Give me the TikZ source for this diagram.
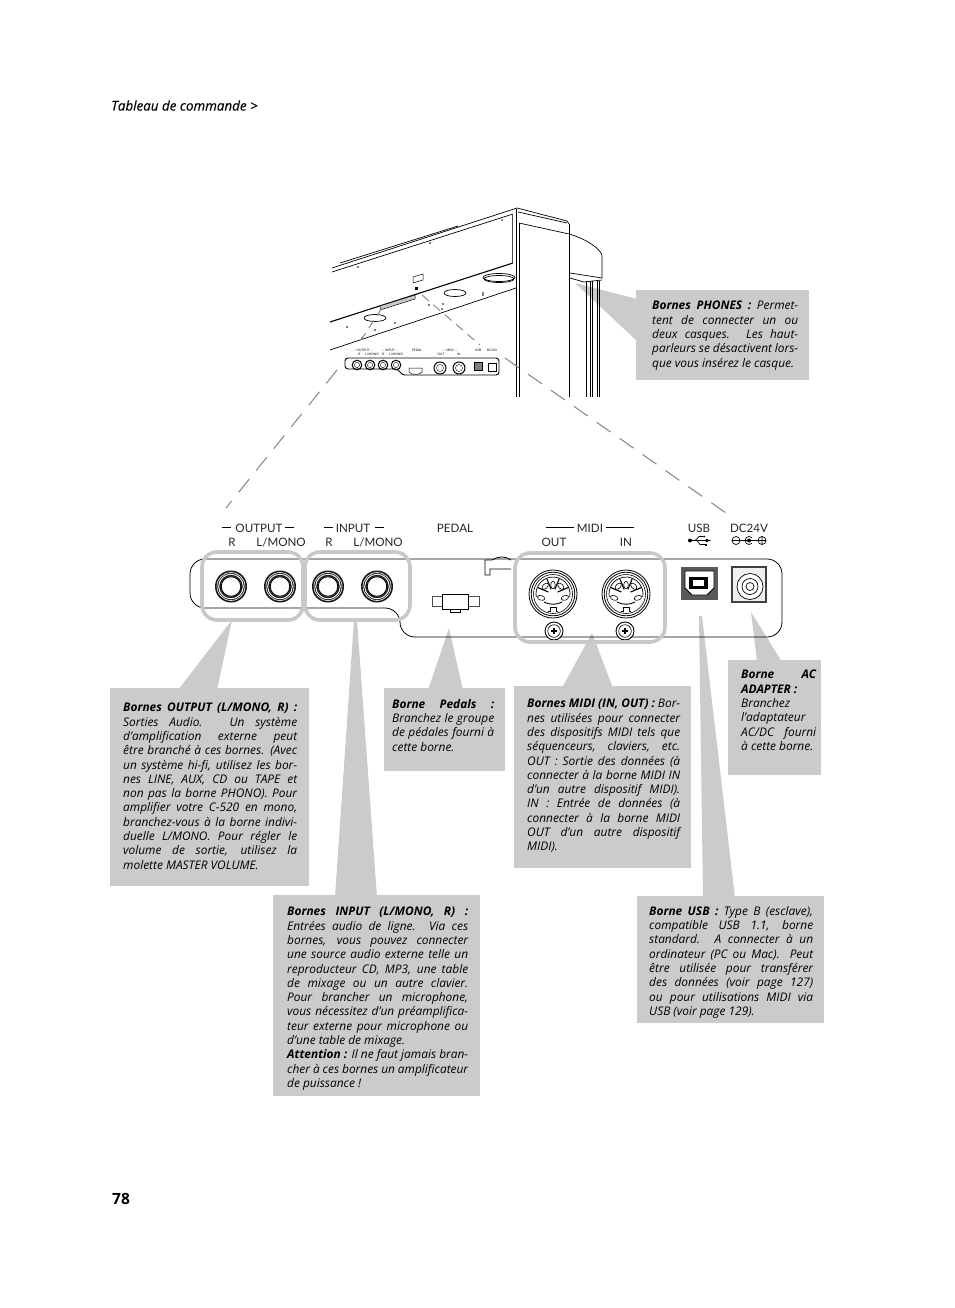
\documentclass[tikz,border=0pt]{standalone}
\usepackage{fontspec}
\setmainfont{Open Sans}
\newfontfamily\panelfont{Lato}
\usetikzlibrary{calc,positioning}
\definecolor{notegray}{HTML}{CBCBCB}
\definecolor{ringgray}{HTML}{C8C8C8}
\definecolor{dashgray}{HTML}{8C8C8C}
\tikzset{
  notetext/.style={anchor=north west,inner sep=0pt,align=justify,font=\fontsize{11.9}{14.3}\selectfont\itshape},
  pointer/.style={fill=notegray},
  ringbox/.style={draw=ringgray,line width=3.6pt,rounded corners=15pt},
  panellabel/.style={font=\fontsize{11.6}{11.6}\panelfont,inner sep=0pt,text=black!85},
  minilabel/.style={font=\fontsize{3.2}{3.2}\panelfont,inner sep=0pt},
  guide/.style={draw=dashgray,line width=1.1pt,dash pattern=on 17pt off 11pt},
  miniguide/.style={draw=dashgray,line width=1pt,dash pattern=on 9pt off 6pt}
}
\newcommand{\jackplug}[1]{%
  \fill[black!90] (#1) circle (16);
  \draw[white,line width=0.6pt] (#1) circle (14);
  \draw[white,line width=0.9pt] (#1) circle (12.3);
  \fill[white] (#1) circle (10.2);
  \draw[line width=0.9pt] (#1) circle (9.8);
}
\newcommand{\midiplug}[1]{%
  \begin{scope}[shift={(#1)}]
   \draw[line width=0.8pt] (0,0) circle (24);
   \draw[line width=0.8pt] (0,0) circle (21.8);
   \draw[line width=0.6pt] (0,0) circle (19.5);
   \draw[line width=0.7pt] (170:17) arc (170:370:17);
   \foreach \wedgeangle in {-112,-68,-157,-23}
     \draw[line width=1.1pt] (\wedgeangle:5) -- (\wedgeangle:16.5);
   \foreach \pinangle/\pinrad in {-90/9,-135/11,-45/11,162/12.5,18/12.5}
     \draw[fill=white,line width=0.6pt,shift={(\pinangle:\pinrad)},rotate=\pinangle] (0,0) ellipse (3.8 and 2.3);
   \draw[line width=0.9pt] (-9,8) .. controls (-4,11) and (4,11) .. (9,8);
   \draw[line width=0.9pt] (-5,17.5) -- (-3,17.5) -- (-3,13.5) -- (3,13.5) -- (3,17.5) -- (5,17.5);
  \end{scope}}
\newcommand{\screwplug}[1]{%
  \draw[line width=0.9pt,fill=white] (#1) circle (9);
  \draw[line width=0.6pt] (#1) circle (6.3);
  \draw[line width=1.6pt] ($(#1)+(-2.6,0)$) -- ($(#1)+(2.6,0)$) ($(#1)+(0,-2.6)$) -- ($(#1)+(0,2.6)$);
}
\begin{document}
\begin{tikzpicture}[x=1pt,y=-1pt]
 \useasboundingbox (0,0) rectangle (954,1308);
 % running title and page number
 \node[anchor=west,inner sep=0pt,font=\fontsize{13.4}{14}\selectfont\itshape] (pagetitle) at (111,105.5) {\addfontfeature{FakeBold=0.1}Tableau de commande >};
 \node[anchor=west,inner sep=0pt,font=\fontsize{15.5}{16}\selectfont\bfseries] (pagenumber) at (112,1199) {78};

 % grey pointers
 \fill[pointer] (232,620) -- (178,690) -- (217,690) -- cycle;
 \fill[pointer] (354,620) -- (357,620) -- (377,897) -- (335,897) -- cycle;
 \fill[pointer] (449,628) -- (428,690) -- (463,690) -- cycle;
 \fill[pointer] (592,633) -- (562,688) -- (613,688) -- cycle;
 \fill[pointer] (699,616) -- (702,616) -- (735,898) -- (703,898) -- cycle;
 \fill[pointer] (751,612) -- (757,662) -- (782,662) -- cycle;
 \fill[pointer] (575,283) -- (637,299) -- (637,341) -- cycle;

 % note boxes
 \fill[notegray] (636,290) rectangle (809,380);
 \fill[notegray] (110,688) rectangle (309,886);
 \fill[notegray] (273,895) rectangle (480,1096);
 \fill[notegray] (384,688) rectangle (505,771);
 \fill[notegray] (514,686) rectangle (691,868);
 \fill[notegray] (728,660) rectangle (821,775);
 \fill[notegray] (637,896) rectangle (824,1023);

 \node[notetext,text width=146pt] (phonesnote) at (652,301) {\textbf{Bornes PHONES :} Permet-\linebreak tent de connecter un ou\linebreak deux casques. Les haut-\linebreak parleurs se désactivent lors-\linebreak que vous insérez le casque.};
 \node[notetext,text width=174pt] (outputnote) at (123,703) {\textbf{Bornes OUTPUT (L/MONO, R) :}\linebreak Sorties Audio. Un système\linebreak d’amplification externe peut\linebreak être branché à ces bornes. (Avec\linebreak un système hi-fi, utilisez les bor-\linebreak nes LINE, AUX, CD ou TAPE et\linebreak non pas la borne PHONO). Pour\linebreak amplifier votre C-520 en mono,\linebreak branchez-vous à la borne indivi-\linebreak duelle L/MONO. Pour régler le\linebreak volume de sortie, utilisez la\linebreak molette MASTER VOLUME.};
 \node[notetext,text width=181pt] (inputnote) at (287,907) {\textbf{Bornes INPUT (L/MONO, R) :}\linebreak Entrées audio de ligne. Via ces\linebreak bornes, vous pouvez connecter\linebreak une source audio externe telle un\linebreak reproducteur CD, MP3, une table\linebreak de mixage ou un autre clavier.\linebreak Pour brancher un microphone,\linebreak vous nécessitez d’un préamplifica-\linebreak teur externe pour microphone ou\linebreak d’une table de mixage.\\ \textbf{Attention :} Il ne faut jamais bran-\linebreak cher à ces bornes un amplificateur\linebreak de puissance !};
 \node[notetext,text width=102pt] (pedalnote) at (392,699) {\textbf{Borne Pedals :}\linebreak Branchez le groupe\linebreak de pédales fourni à\linebreak cette borne.};
 \node[notetext,text width=153pt] (midinote) at (527,699) {\textbf{Bornes MIDI (IN, OUT) :} Bor-\linebreak nes utilisées pour connecter\linebreak des dispositifs MIDI tels que\linebreak séquenceurs, claviers, etc.\linebreak OUT : Sortie des données (à\linebreak connecter à la borne MIDI IN\linebreak d’un autre dispositif MIDI).\linebreak IN : Entrée de données (à\linebreak connecter à la borne MIDI\linebreak OUT d’un autre dispositif\linebreak MIDI).};
 \node[notetext,text width=75pt] (acnote) at (741,670) {\textbf{Borne AC}\linebreak \textbf{ADAPTER :}\\ Branchez\\ l’adaptateur\\ AC/DC fourni\linebreak à cette borne.};
 \node[notetext,text width=164pt] (usbnote) at (649,906) {\textbf{Borne USB :} Type B (esclave),\linebreak compatible USB 1.1, borne\linebreak standard. A connecter à un\linebreak ordinateur (PC ou Mac). Peut\linebreak être utilisée pour transférer\linebreak des données (voir page 127)\linebreak ou pour utilisations MIDI via\linebreak USB (voir page 129).};

 % piano, seen from below
 \begin{scope}[line width=0.7pt]
  \draw (332,268) -- (514,209);
  \draw (332,272) -- (513,214);
  \draw (340,263) -- (458,226);
  \draw[line width=1.1pt] (330,322) -- (513,263);
  \draw (330,350) -- (516,288);
  \draw[black!70] (512,214) -- (512,263);
  \draw (517,208) -- (567,221) -- (569,224);
  \draw (518,212) -- (567,223);
  \draw (519,223) -- (569,234);
  \draw (514,209) -- (517,208);
  \draw (516,209) -- (516,397);
  \draw (519,223) -- (519,397);
  \draw (569,224) -- (569,397);
  \draw (569,234) .. controls (587,239) and (602,250) .. (602,256) -- (602,278) -- (570,273);
  \draw (570,278) -- (584,282) -- (602,280);
  \foreach \legx in {586,590,592,597,599}
    \draw (\legx,281) -- (\legx,397);
  \draw (499,277.5) ellipse (16 and 4);
  \draw (499,279) ellipse (15 and 3.5);
  \draw (455,293) ellipse (11 and 3.5);
  \draw (375,318) ellipse (11 and 3.5);
  \draw[line width=0.5pt] (413,277) -- (423,274) -- (423,280) -- (413,283) -- cycle;
  \draw[line width=0.5pt,fill=black!20] (380,306) -- (415,295) -- (415,299) -- (380,310) -- cycle;
  \fill (415,287) rectangle (417.5,290);
  \foreach \dotx/\doty in {358/267,430/243,502/220,347/327,395/323,443/304,442/309,429/305,483/293,362/338,483/295,375/330}
    \fill (\dotx,\doty) circle (0.8);
 \end{scope}

 % small panel on the piano
 \draw[line width=0.9pt,rounded corners=3pt] (345,358) -- (499,358) -- (499,375) -- (402,375) -- (398,369) -- (345,369) -- cycle;
 \foreach \mininame/\minix in {miniA/357,miniB/370,miniC/383,miniD/396} {
  \coordinate (\mininame) at (\minix,365);
  \draw[line width=1pt] (\mininame) circle (4.8);
  \draw[line width=0.4pt] (\mininame) circle (2.6);
 }
 \draw[line width=0.5pt] (409,368) -- (422,368) -- (422,372) -- (419,374) -- (412,374) -- (409,372) -- cycle;
 \foreach \mininame/\minix in {miniE/440,miniF/459} {
  \coordinate (\mininame) at (\minix,368);
  \draw[line width=1pt] (\mininame) circle (6);
  \draw[line width=0.4pt] (\mininame) circle (3.5);
 }
 \draw[line width=0.8pt,fill=black!50] (474,362) rectangle (482,370);
 \draw[line width=0.8pt] (488,363) rectangle (496,371);
 \node[minilabel] (miniout) at (363,350) {-- OUTPUT --};
 \node[minilabel] (minioutR) at (359,354.5) {R};
 \node[minilabel] (minioutL) at (372,354.5) {L/MONO};
 \node[minilabel] (miniin) at (390,350) {-- INPUT --};
 \node[minilabel] (miniinR) at (383,354.5) {R};
 \node[minilabel] (miniinL) at (396,354.5) {L/MONO};
 \node[minilabel] (minipedal) at (417,350) {PEDAL};
 \node[minilabel] (minimidi) at (450,350) {--- MIDI ---};
 \node[minilabel] (minimidiO) at (441,354.5) {OUT};
 \node[minilabel] (minimidiI) at (459,354.5) {IN};
 \node[minilabel] (miniusb) at (478,350) {USB};
 \node[minilabel] (minidc) at (492,350) {DC24V};

 % dashed guide lines
 \coordinate (guideA) at (337,370);
 \coordinate (guideB) at (226,508);
 \coordinate (guideC) at (505,358);
 \coordinate (guideD) at (726,513);
 \coordinate (guideE) at (382,308);
 \coordinate (guideF) at (361,340);
 \coordinate (guideG) at (422,295);
 \coordinate (guideH) at (480,345);
 \draw[guide] (guideA) -- (guideB);
 \draw[guide] (guideC) -- (guideD);
 \draw[miniguide] (guideE) -- (guideF);
 \draw[miniguide] (guideG) -- (guideH);

 % connector panel
 \draw[line width=0.8pt,rounded corners=15pt] (300,559) -- (782,559) -- (782,637) -- (400,637) -- (400,608) -- (190,608) -- (190,559) -- cycle;
 \foreach \jackname/\jackx in {jackA/231,jackB/280,jackC/328,jackD/377} {
  \coordinate (\jackname) at (\jackx,586.5);
  \jackplug{\jackname}
 }

 % pedal socket and clip
 \draw[line width=0.5pt,black!70,fill=white] (432,596) rectangle (479,606);
 \draw[line width=0.9pt,fill=white] (442,594) -- (468,594) -- (468,609) -- (442,609) -- cycle;
 \draw[line width=0.7pt] (450,609) rectangle (460,612.5);
 \fill[white] (486,555) rectangle (512,558.2);
 \draw[line width=0.8pt] (485,575) -- (485,560) -- (492,560) .. controls (498,556) and (506,556) .. (511,560) (485,575) -- (490,575) -- (490,569) -- (511,569);

 % midi sockets
 \coordinate (midiA) at (553,594);
 \coordinate (midiB) at (626,594);
 \coordinate (screwA) at (554,631);
 \coordinate (screwB) at (625,631);
 \midiplug{midiA}
 \midiplug{midiB}
 \screwplug{screwA}
 \screwplug{screwB}
 \draw[ringbox] (202,552) rectangle (303,620);
 \draw[ringbox] (305,552) rectangle (410,620);
 \draw[ringbox] (515,553) rectangle (665,642);

 % usb and dc sockets
 \fill[black!65] (681,567) rectangle (718,600);
 \draw[line width=0.8pt,fill=white] (685,571) -- (714,571) -- (714,588) -- (707,595) -- (692,595) -- (685,588) -- cycle;
 \fill[black] (689,577) rectangle (708,589);
 \fill[white] (693,580) rectangle (704,586);
 \draw[line width=1.4pt,black!75,fill=black!6] (732,567) rectangle (766,602);
 \draw[line width=0.7pt,fill=white] (750,586.5) circle (13);
 \draw[line width=0.7pt] (750,586.5) circle (8);
 \draw[line width=0.7pt] (750,586.5) circle (4);

 % panel labels
 \node[panellabel] (outputlabel) at (259,528) {OUTPUT};
 \draw[line width=0.6pt] (222,527) -- (231,527) (285,527) -- (294,527);
 \node[panellabel] (outputR) at (232,542) {R};
 \node[panellabel] (outputL) at (281,542) {L/MONO};
 \node[panellabel] (inputlabel) at (353,528) {INPUT};
 \draw[line width=0.6pt] (324,527) -- (333,527) (375,527) -- (384,527);
 \node[panellabel] (inputR) at (329,542) {R};
 \node[panellabel] (inputL) at (378,542) {L/MONO};
 \node[panellabel] (pedallabel) at (455,528) {PEDAL};
 \node[panellabel] (midilabel) at (590,528) {MIDI};
 \draw[line width=0.6pt] (546,527) -- (574,527) (606,527) -- (634,527);
 \node[panellabel] (midiout) at (554,542) {OUT};
 \node[panellabel] (midiin) at (626,542) {IN};
 \node[panellabel] (usblabel) at (699,528) {USB};
 \node[panellabel] (dclabel) at (749,528) {DC24V};

 % usb and polarity symbols
 \fill (690,540.5) circle (2);
 \draw[line width=0.8pt,-latex] (690,540.5) -- (711,540.5);
 \draw[line width=0.7pt] (695,540.5) -- (699,536.5) -- (703,536.5);
 \draw[line width=0.7pt] (697,540.5) -- (700,544.5) -- (705,544.5);
 \fill (704,536.5) circle (1);
 \fill (705,543.5) rectangle (707,545.5);
 \draw[line width=0.7pt] (736,540.5) circle (4) (732,540.5) -- (740,540.5);
 \draw[line width=0.7pt] (749,540.5) ++(45:4) arc (45:315:4) (740,540.5) -- (758,540.5);
 \fill (749,540.5) circle (2);
 \draw[line width=0.7pt] (762,540.5) circle (4) (758,540.5) -- (766,540.5) (762,536.5) -- (762,544.5);
\end{tikzpicture}
\end{document}
